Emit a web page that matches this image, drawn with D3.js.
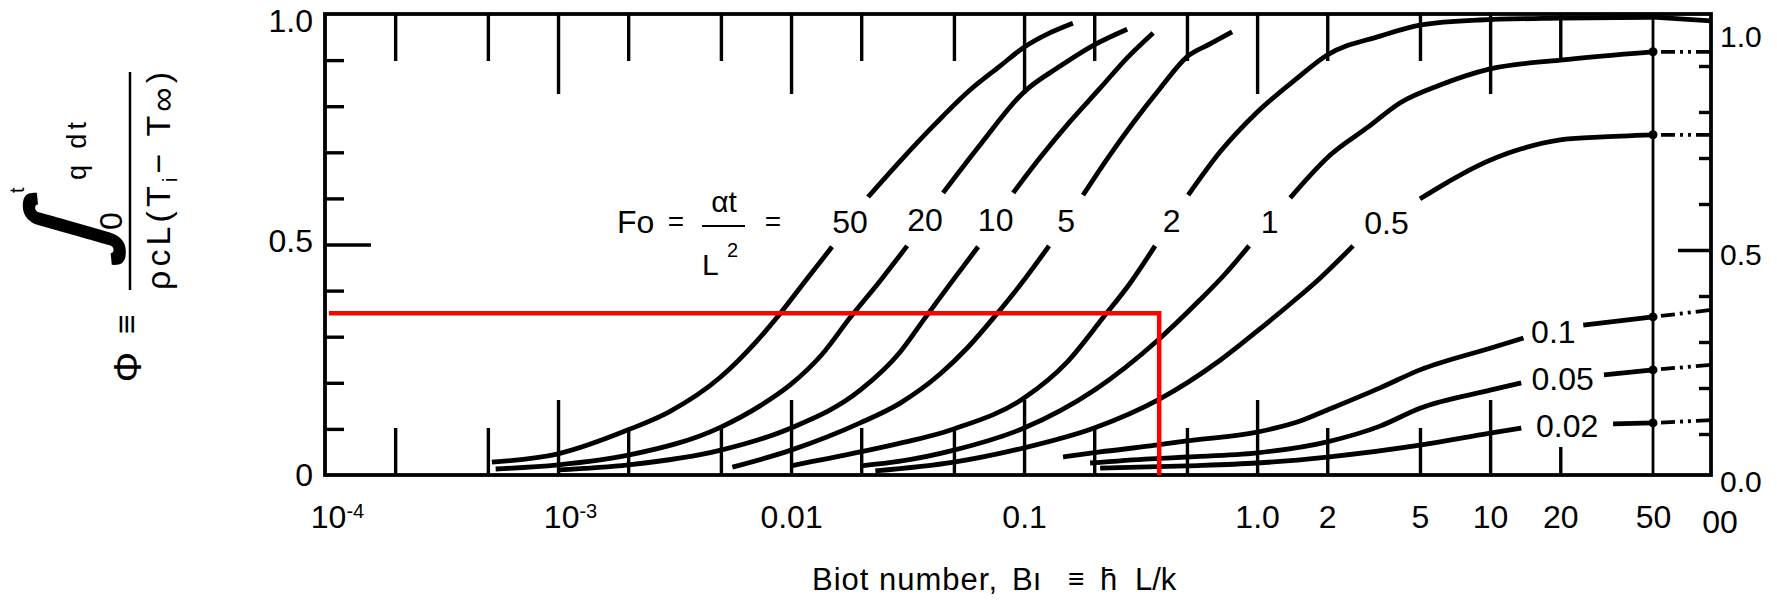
<!DOCTYPE html>
<html><head><meta charset="utf-8">
<script src="https://cdn.jsdelivr.net/npm/d3@7"></script>
<style>
body{margin:0;background:#fff;}
svg{display:block;font-family:"Liberation Sans",Arial,Helvetica,sans-serif;}
.tk line{stroke:#000;stroke-width:3.4;}
.tk text{fill:#000;}
</style></head><body>
<svg id="chart" width="1777" height="601"></svg>
<script>
// ---------------- data (Bi, Phi) ----------------
const foLabels = ["50","20","10","5","2","1","0.5","0.1","0.05","0.02"];
const fo50 = [
  [[5.2e-4,0.028],[1e-3,0.046],[2e-3,0.098],[3e-3,0.137],[5e-3,0.213],[7e-3,0.286],[9e-3,0.351],[0.0116,0.423],[0.015,0.495]],
  [[0.0214,0.603],[0.0294,0.681],[0.0415,0.761],[0.0586,0.835],[0.0788,0.887],[0.1,0.928],[0.129,0.959],[0.162,0.980]]
];
const fo20 = [
  [[5.4e-4,0.013],[1e-3,0.022],[2e-3,0.043],[5e-3,0.104],[7.36e-3,0.150],[0.01,0.197],[0.0136,0.262],[0.0179,0.341],[0.0241,0.421],[0.0315,0.497]],
  [[0.0449,0.612],[0.0647,0.716],[0.1,0.831],[0.143,0.887],[0.2,0.933],[0.277,0.967]]
];
const fo10 = [
  [[1e-3,0.011],[2e-3,0.022],[5e-3,0.054],[0.01,0.102],[0.0198,0.184],[0.0294,0.267],[0.0376,0.341],[0.0481,0.414],[0.0635,0.495]],
  [[0.0898,0.612],[0.117,0.688],[0.157,0.766],[0.212,0.839],[0.277,0.905],[0.358,0.959]]
];
const fo5 = [
  [[5.6e-3,0.017],[0.01,0.054],[0.0198,0.113],[0.0294,0.156],[0.0436,0.219],[0.0569,0.275],[0.0751,0.345],[0.0962,0.412],[0.128,0.497]],
  [[0.179,0.607],[0.229,0.688],[0.294,0.764],[0.384,0.839],[0.5,0.907],[0.628,0.935],[0.781,0.961]]
];
const fo2 = [
  [[0.01,0.02],[0.0198,0.05],[0.0294,0.069],[0.05,0.1],[0.1,0.167],[0.153,0.245],[0.218,0.341],[0.285,0.416],[0.365,0.497]],
  [[0.506,0.607],[0.694,0.701],[1,0.787],[1.455,0.857],[2,0.911],[3.37,0.952],[5,0.976],[9,0.987],[20,0.991],[50,0.993]]
];
const fo1 = [
  [[0.02,0.02],[0.0294,0.03],[0.05,0.054],[0.1,0.102],[0.2,0.184],[0.376,0.293],[0.569,0.38],[0.729,0.436],[0.924,0.497]],
  [[1.387,0.601],[2.06,0.694],[3,0.755],[4.1,0.807],[6.1,0.846],[10,0.881],[20,0.9],[50,0.918]]
];
const fo05 = [
  [[0.023,0.009],[0.05,0.028],[0.1,0.059],[0.2,0.102],[0.376,0.163],[0.694,0.249],[1,0.312],[1.386,0.371],[1.862,0.427],[2.58,0.497]],
  [[5,0.599],[6.61,0.636],[8.63,0.668],[13.5,0.707],[20,0.727],[29.1,0.733],[50,0.738]]
];
const fo01 = [
  [[0.147,0.039],[0.212,0.05],[0.348,0.063],[0.5,0.074],[1,0.093],[1.53,0.117],[2,0.141],[3.37,0.189],[5,0.228],[10,0.275],[13.9,0.297]],
  [[25.1,0.325],[50,0.343]]
];
const fo005 = [
  [[0.192,0.026],[0.348,0.035],[0.5,0.039],[1,0.048],[2,0.072],[3.37,0.106],[5,0.145],[10,0.184],[13.6,0.2]],
  [[30.8,0.217],[50,0.228]]
];
const fo002 = [
  [[0.212,0.015],[0.5,0.02],[1,0.026],[2,0.039],[5,0.065],[10,0.091],[13.6,0.102]],
  [[33.7,0.111],[50,0.113]]
];
// Phi at Bi = infinity (right-hand end of each curve), null where not drawn
const phiAtInfinity = [null,null,null,null,0.985,0.918,0.738,0.358,0.239,0.119];
// red reading line: start Bi, corner (Bi, Phi)
const redStartBi = 1.04e-4;
const redCorner = [0.38, 0.351];
// ticks
const xMajorTicks = [1e-3,0.01,0.1,1,10];
const xMinorTicks = [2e-4,5e-4,2e-3,5e-3,0.02,0.05,0.2,0.5,2,5];
const xShortTicks = [20];
const xLabelValues = [1e-4,1e-3,0.01,0.1,1,2,5,10,20,50];
const xLabelText = ["10","10","0.01","0.1","1.0","2","5","10","20","50"];
const xLabelExp = ["-4","-3",null,null,null,null,null,null,null,null];
const infLabel = "00";
const yMinorTicks = [0.1,0.2,0.3,0.4,0.6,0.7,0.8,0.9];
const yMidTick = [0.5];
const yLeftLabels = [0,0.5,1];
const yLeftText = ["0","0.5","1.0"];
const yRightLabels = [0,0.5,1];
const yRightText = ["0.0","0.5","1.0"];

const curves = [fo50,fo20,fo10,fo5,fo2,fo1,fo05,fo01,fo005,fo002];

// ---------------- scales ----------------
const svg = d3.select("#chart");
svg.append("rect").attr("width",1777).attr("height",601).attr("fill","#fff");
const x = d3.scaleLog().domain([1e-4,50]).range([325,1653]);
const y = d3.scaleLinear().domain([0,1]).range([475,14]);
const y2 = d3.scaleLinear().domain([0,1]).range([480,20]); // right-hand scale of the scan
const xInf = x(50) + 58;
const X = b => (b === Infinity ? xInf : x(b));

// ---------------- ticks ----------------
function tk(axis, tr){ const g = svg.append("g").attr("class","tk").attr("transform",tr).call(axis); g.select(".domain").remove(); return g; }
tk(d3.axisBottom(x).tickValues(xMajorTicks).tickSize(-75).tickFormat(""), `translate(0,${y(0)})`);
tk(d3.axisBottom(x).tickValues(xMinorTicks).tickSize(-47).tickFormat(""), `translate(0,${y(0)})`);
tk(d3.axisBottom(x).tickValues(xShortTicks).tickSize(-28).tickFormat(""), `translate(0,${y(0)})`);
tk(d3.axisTop(x).tickValues(xMajorTicks).tickSize(-80).tickFormat(""), `translate(0,${y(1)})`);
tk(d3.axisTop(x).tickValues(xMinorTicks.concat(xShortTicks)).tickSize(-47).tickFormat(""), `translate(0,${y(1)})`);
tk(d3.axisRight(y).tickValues(yMinorTicks).tickSize(19).tickFormat(""), `translate(${x(1e-4)},0)`);
tk(d3.axisRight(y).tickValues(yMidTick).tickSize(46).tickFormat(""), `translate(${x(1e-4)},0)`);
tk(d3.axisLeft(y2).tickValues(yMinorTicks).tickSize(12).tickFormat(""), `translate(${xInf},0)`);
tk(d3.axisLeft(y2).tickValues(yMidTick).tickSize(33).tickFormat(""), `translate(${xInf},0)`);

// vertical line at Bi = 50
svg.append("line").attr("x1",x(50)).attr("x2",x(50)).attr("y1",y(0)).attr("y2",y(1))
  .attr("stroke","#000").attr("stroke-width",2.8);

// frame
svg.append("rect").attr("x",x(1e-4)).attr("y",y(1)).attr("width",xInf-x(1e-4)).attr("height",y(0)-y(1))
  .attr("fill","none").attr("stroke","#000").attr("stroke-width",3.8);

// ---------------- labels on axes ----------------
const bl = tk(d3.axisBottom(x).tickValues(xLabelValues).tickSize(0).tickPadding(30)
   .tickFormat((d,i)=>xLabelText[i]), `translate(0,${y(0)})`);
bl.selectAll("text").attr("font-size",32).attr("font-family","Liberation Sans, Arial, sans-serif")
  .attr("x",(d,i)=> xLabelExp[i] ? 12 : 0);
bl.selectAll("text").filter((d,i)=>xLabelExp[i]).append("tspan")
  .attr("dy","-0.5em").attr("font-size",20).text(d=>xLabelExp[xLabelValues.indexOf(d)]);
svg.append("text").attr("x",xInf+9).attr("y",533).attr("text-anchor","middle").attr("font-size",32).text(infLabel);

const ll = tk(d3.axisLeft(y).tickValues(yLeftLabels).tickSize(0).tickPadding(12)
   .tickFormat((d,i)=>yLeftText[i]), `translate(${x(1e-4)},0)`);
ll.selectAll("text").attr("font-size",32).attr("font-family","Liberation Sans, Arial, sans-serif")
  .attr("dy",d=> d===1 ? "0.55em" : d===0.5 ? "0.22em" : "0.32em");

const rl = tk(d3.axisRight(y2).tickValues(yRightLabels).tickSize(0).tickPadding(9)
   .tickFormat((d,i)=>yRightText[i]), `translate(${xInf},0)`);
rl.selectAll("text").attr("font-size",30).attr("font-family","Liberation Sans, Arial, sans-serif")
  .attr("dy",d=> d===1 ? "0.89em" : d===0.5 ? "0.49em" : "0.39em");

// ---------------- curves ----------------
const line = d3.line().x(d=>X(d[0])).y(d=>y(d[1])).curve(d3.curveMonotoneX);
const cg = svg.append("g");
curves.forEach((segs,i)=>{
  segs.forEach(seg=>{
    cg.append("path").attr("d",line(seg)).attr("fill","none").attr("stroke","#000")
      .attr("stroke-width",4.8).attr("stroke-linecap","butt");
  });
  const a = segs[0][segs[0].length-1], b = segs[1][0];
  const lx = (X(a[0])+X(b[0]))/2, ly = (y(a[1])+y(b[1]))/2;
  cg.append("text").attr("x",lx).attr("y",ly).attr("dy","0.35em").attr("text-anchor","middle")
    .attr("font-size",32).text(foLabels[i]);
  const pInf = phiAtInfinity[i];
  if (pInf !== null) {
    const last = segs[1][segs[1].length-1];
    const ext = cg.append("path").attr("d", d3.line().x(d=>X(d[0])).y(d=>y(d[1]))([last,[Infinity,pInf]]))
      .attr("fill","none").attr("stroke","#000").attr("stroke-width", i===4 ? 4.8 : 3.8);
    if (i !== 4) {
      ext.attr("stroke-dasharray","0,8,14,5,3,5,3,5,40");
      cg.append("circle").attr("cx",X(last[0])).attr("cy",y(last[1])).attr("r",4.5).attr("fill","#000");
    }
  }
});

// ---------------- Fo formula ----------------
const fo = svg.append("g").attr("font-size",32);
fo.append("text").attr("x",617).attr("y",233).text("Fo");
fo.append("text").attr("x",676).attr("y",231).attr("text-anchor","middle").attr("font-size",28).text("=");
fo.append("text").attr("x",724).attr("y",212).attr("text-anchor","middle").attr("font-size",30).text("αt");
fo.append("line").attr("x1",702).attr("x2",745).attr("y1",226).attr("y2",226).attr("stroke","#000").attr("stroke-width",2);
fo.append("text").attr("x",702).attr("y",275).attr("font-size",30).text("L");
fo.append("text").attr("x",727).attr("y",257).attr("font-size",20).text("2");
fo.append("text").attr("x",773).attr("y",231).attr("text-anchor","middle").attr("font-size",28).text("=");

// ---------------- x title ----------------
const xt = svg.append("g").attr("font-size",31);
xt.append("text").attr("x",812).attr("y",590).attr("letter-spacing",1).text("Biot number,");
xt.append("text").attr("x",1012).attr("y",590).text("Bı");
xt.append("text").attr("x",1068).attr("y",588).attr("font-size",28).text("≡");
xt.append("text").attr("x",1100).attr("y",590).text("h\u0304");
xt.append("text").attr("x",1135).attr("y",590).text("L/k");

// ---------------- y title (rotated) ----------------
const yt = svg.append("g").attr("transform","translate(130,181) rotate(-90)");
yt.append("line").attr("x1",-109).attr("x2",109).attr("y1",0).attr("y2",0).attr("stroke","#000").attr("stroke-width",2.5);
yt.append("text").attr("x",1).attr("y",-44).attr("font-size",27).attr("textLength",58).attr("lengthAdjust","spacing").text("q dt");
const integ = yt.append("text").attr("x",0).attr("y",0).attr("font-size",100)
  .attr("font-family","DejaVu Sans").attr("font-weight","bold").text("∫");
{ // fit the ink of the integral sign into its place beside the numerator
  const ctx = document.createElement("canvas").getContext("2d");
  ctx.font = 'bold 100px "DejaVu Sans"';
  const m = ctx.measureText("∫");
  let l = -m.actualBoundingBoxLeft, r = m.actualBoundingBoxRight, t = -m.actualBoundingBoxAscent, b = m.actualBoundingBoxDescent;
  if (!(b - t > 5)) { const bb = integ.node().getBBox(); l = bb.x; r = bb.x + bb.width; t = bb.y; b = bb.y + bb.height; }
  const s = 104 / (b - t);
  integ.attr("transform", `translate(-48,-56) skewX(-12) scale(${s}) translate(${-(l+r)/2},${-(t+b)/2})`);
}
yt.append("text").attr("x",-12).attr("y",-106).attr("font-size",20).text("t");
yt.append("text").attr("x",-40).attr("y",-8).attr("font-size",32).attr("text-anchor","middle").text("0");
const den = yt.append("text").attr("x",0).attr("y",40).attr("font-size",34).attr("text-anchor","middle")
  .attr("textLength",218).attr("lengthAdjust","spacing");
den.append("tspan").text("ρcL(T");
den.append("tspan").attr("font-size",20).attr("dy",7).text("i");
den.append("tspan").attr("dy",-7).text("− T");
den.append("tspan").attr("font-size",34).attr("dy",4).text("∞");
den.append("tspan").attr("dy",-4).text(")");
yt.append("text").attr("x",-143).attr("y",8).attr("font-size",34).attr("text-anchor","middle").text("≡");
yt.append("text").attr("x",-186).attr("y",11).attr("font-size",38).attr("text-anchor","middle").text("Φ");

// ---------------- red reading line ----------------
svg.append("path").attr("d", d3.line()([[x(redStartBi),y(redCorner[1])],[x(redCorner[0]),y(redCorner[1])],[x(redCorner[0]),y(0)]]))
  .attr("fill","none").attr("stroke","#ff0000").attr("stroke-width",4.5);
</script>
</body></html>
